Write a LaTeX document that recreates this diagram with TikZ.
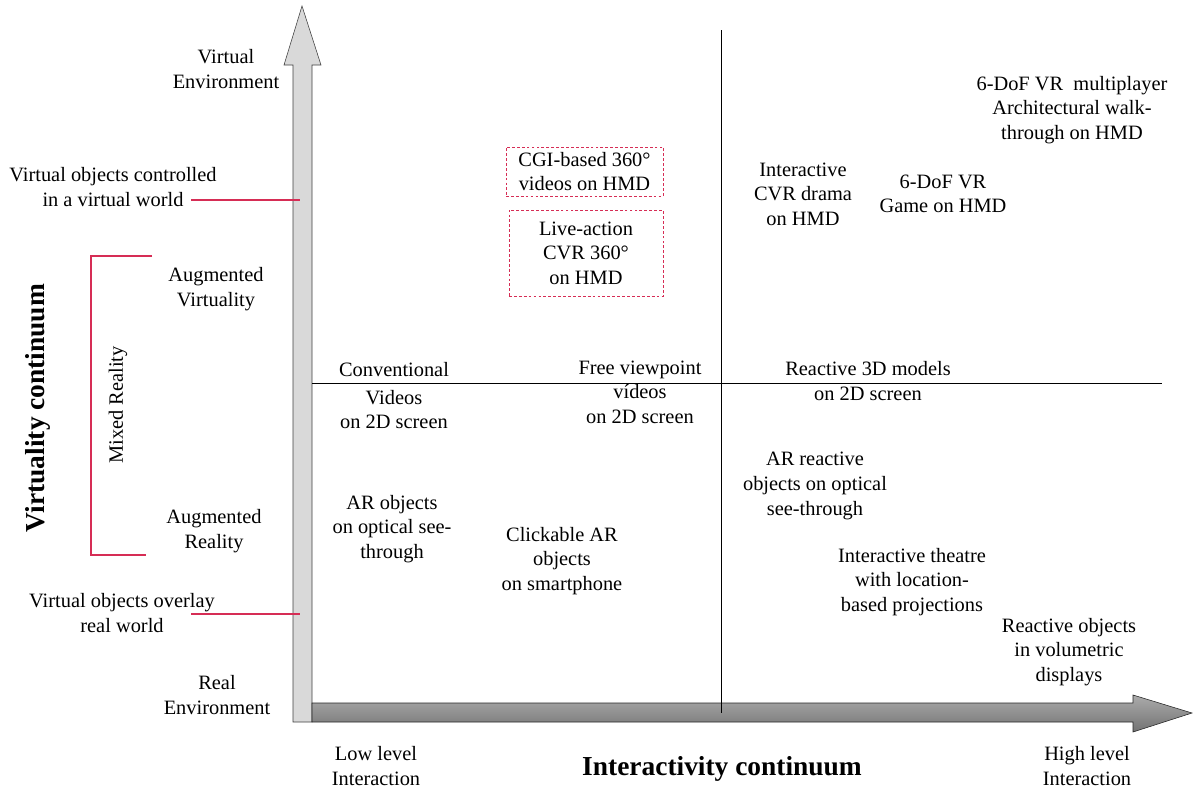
\documentclass[tikz,border=0pt]{standalone}
\usepackage{xcolor}
\usepackage{fontspec}
\setmainfont{Liberation Serif}
\usepackage{tikz}

\definecolor{mrred}{RGB}{214,45,85}
\tikzset{
  lbl/.style={align=center, inner sep=0pt, font=\fontsize{14.5}{17.5}\selectfont},
  bigt/.style={inner sep=0pt, font=\fontsize{19.5}{22}\selectfont\bfseries},
  dbox/.style={lbl, draw=mrred, dash pattern=on 2pt off 1.5pt, line width=0.6pt}
}

\begin{document}
\begin{tikzpicture}[x=0.025cm, y=-0.025cm]
    \useasboundingbox (0,0) rectangle (1193,790);

    % the two continua
    \draw[black!75, fill=black!15] (293,722) -- (293,65) -- (284,65) -- (302,6) -- (321,65) -- (312,65) -- (312,722) -- cycle;
    \draw[black!85, top color=black!33, bottom color=black!55] (312,703) -- (1133,703) -- (1133,695) -- (1192,713) -- (1133,732) -- (1133,722) -- (312,722) -- cycle;

    % quadrants
    \coordinate (vtop) at (721,30);
    \coordinate (vbot) at (721,713);
    \coordinate (hleft) at (312,383);
    \coordinate (hright) at (1162,383);
    \draw[line width=0.7pt] (vtop) -- (vbot);
    \draw[line width=0.7pt] (hleft) -- (hright);

    % left axis labels
    \node[lbl] (venv) at (226,69) {Virtual\\Environment};
    \node[lbl] (vctrl) at (113,187) {Virtual objects controlled\\in a virtual world};
    \node[lbl] (av) at (216,289) {Augmented\\Virtuality};
    \node[lbl] (ar) at (214,531) {Augmented\\Reality};
    \node[lbl] (vover) at (122,613) {Virtual objects overlay\\real world};
    \node[lbl] (renv) at (217,695) {Real\\Environment};
    \node[lbl, rotate=90] (mixed) at (118,405) {Mixed Reality};
    \node[bigt, rotate=90] (vcont) at (38,408) {Virtuality continuum};

    \coordinate (tick1) at (300,200);
    \coordinate (tick2) at (300,614);
    \draw[mrred, line width=1.4pt] (191,200) -- (tick1);
    \draw[mrred, line width=1.4pt] (191,614) -- (tick2);
    \draw[mrred, line width=0.8pt] (152,256) -- (91,256) -- (91,555) -- (146,555);

    % bottom axis labels
    \node[lbl] (low) at (376,766) {Low level\\Interaction};
    \node[bigt] (icont) at (722,769) {Interactivity continuum};
    \node[lbl] (high) at (1087,766) {High level\\Interaction};

    % examples
    \node[dbox, minimum width=3.925cm, minimum height=1.225cm] (cgi) at (584.5,171.5) {CGI-based 360°\\videos on HMD};
    \node[dbox, minimum width=3.85cm, minimum height=2.15cm] (live) at (586,253) {Live-action\\CVR 360°\\on HMD};
    \node[lbl] (drama) at (803,194) {Interactive\\CVR drama\\on HMD};
    \node[lbl] (game) at (943,194) {6-DoF VR\\Game on HMD};
    \node[lbl] (walk) at (1072,110) {6-DoF VR\ \ multiplayer\\Architectural walk-\\through on HMD};

    \node[lbl] (conv) at (394,396) {Conventional\\[2pt]Videos\\on 2D screen};
    \node[lbl] (free) at (640,392) {Free viewpoint\\vídeos\\on 2D screen};
    \node[lbl] (react3d) at (868,381) {Reactive 3D models\\on 2D screen};

    \node[lbl] (arreact) at (815,486) {AR reactive\\objects on optical\\see-through};
    \node[lbl] (arobj) at (392,529) {AR objects\\on optical see-\\through};
    \node[lbl] (click) at (562,561) {Clickable AR\\objects\\on smartphone};
    \node[lbl] (theatre) at (912,582) {Interactive theatre\\with location-\\based projections};
    \node[lbl] (volum) at (1069,652) {Reactive objects\\in volumetric\\displays};

\end{tikzpicture}
\end{document}
